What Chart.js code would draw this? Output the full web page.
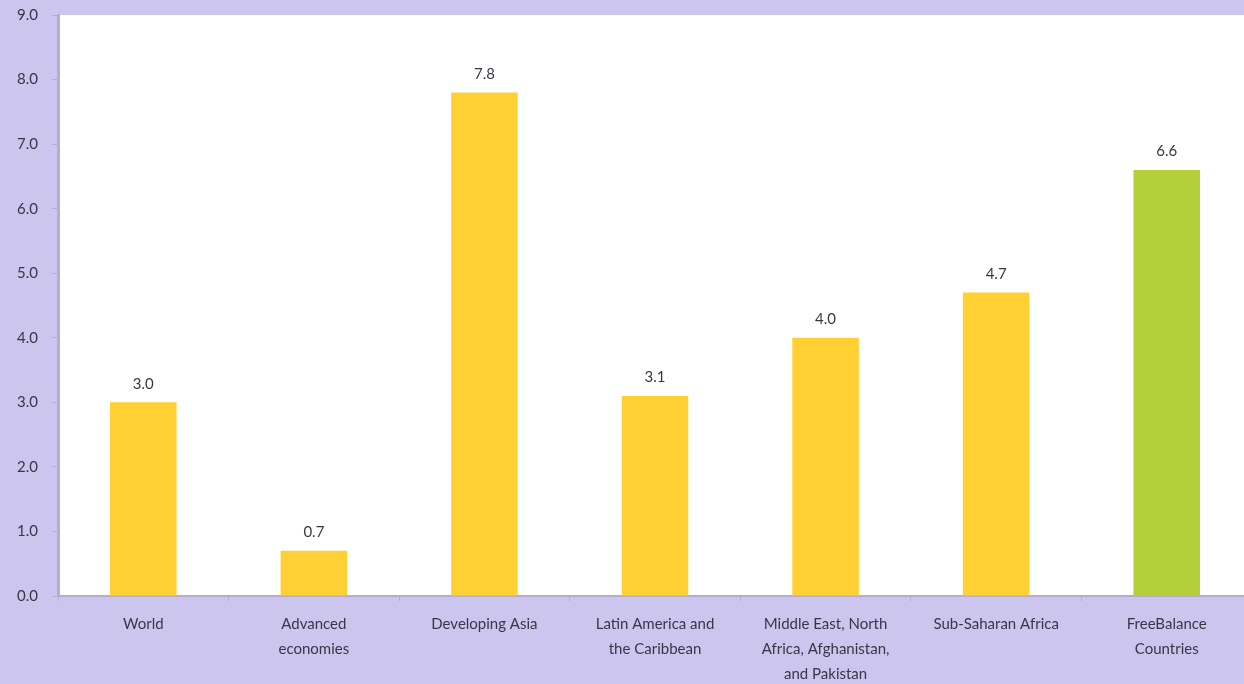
<!DOCTYPE html>
<html>
<head>
<meta charset="utf-8">
<script src="https://cdn.jsdelivr.net/npm/chart.js@4/dist/chart.umd.min.js"></script>
<style>
  html, body { margin: 0; padding: 0; background: #ccc5ee; overflow: hidden; }
  #wrap { width: 1252px; height: 684px; position: relative; }
</style>
</head>
<body>
<div id="wrap"><canvas id="c"></canvas></div>
<script>
// Regions and their values
const categories = [
  'World',
  ['Advanced', 'economies'],
  'Developing Asia',
  ['Latin America and', 'the Caribbean'],
  ['Middle East, North', 'Africa, Afghanistan,', 'and Pakistan'],
  'Sub-Saharan Africa',
  ['FreeBalance', 'Countries']
];
const growthValues = [3.0, 0.7, 7.8, 3.1, 4.0, 4.7, 6.6];
const barColors = ['#ffd033', '#ffd033', '#ffd033', '#ffd033', '#ffd033', '#ffd033', '#b5cf3a'];
const yTicks = [0, 1, 2, 3, 4, 5, 6, 7, 8, 9];

const FONT = 'Lato, "Open Sans", sans-serif';
const TEXT = '#383746';
const AXIS = '#b3aed0';

// White plotting area on the lavender background
const plotBackground = {
  id: 'plotBackground',
  beforeDraw(chart) {
    const { ctx, chartArea: a } = chart;
    ctx.save();
    ctx.fillStyle = '#ffffff';
    ctx.fillRect(a.left, a.top, a.right - a.left, a.bottom - a.top);
    ctx.restore();
  }
};

// Value labels above each bar
const valueLabels = {
  id: 'valueLabels',
  afterDatasetsDraw(chart) {
    const { ctx } = chart;
    const meta = chart.getDatasetMeta(0);
    ctx.save();
    ctx.font = '15px ' + FONT;
    ctx.fillStyle = TEXT;
    ctx.textAlign = 'center';
    ctx.textBaseline = 'bottom';
    meta.data.forEach((bar, i) => {
      ctx.fillText(growthValues[i].toFixed(1), bar.x, bar.y - 11);
    });
    ctx.restore();
  }
};

new Chart(document.getElementById('c'), {
  type: 'bar',
  data: {
    labels: categories,
    datasets: [{
      data: growthValues,
      backgroundColor: barColors,
      borderWidth: 0,
      barPercentage: 0.39,
      categoryPercentage: 1.0
    }]
  },
  options: {
    responsive: true,
    maintainAspectRatio: false,
    animation: false,
    layout: { padding: { top: 15, left: 0, right: 0, bottom: 0 } },
    plugins: { legend: { display: false }, tooltip: { enabled: false } },
    scales: {
      x: {
        afterFit(scale) { scale.height = 88; },
        grid: {
          drawOnChartArea: false,
          drawTicks: true,
          tickLength: 5,
          color: AXIS
        },
        border: { display: true, color: AXIS, width: 2 },
        ticks: {
          maxRotation: 0,
          autoSkip: false,
          padding: 11,
          color: TEXT,
          font: { family: FONT, size: 15, lineHeight: 1.65 }
        }
      },
      y: {
        min: 0,
        max: 9,
        afterFit(scale) {
          scale.width = 58;
          scale.paddingTop = 0;
          scale.paddingBottom = 0;
        },
        afterBuildTicks(scale) { scale.ticks = yTicks.map(v => ({ value: v })); },
        grid: {
          drawOnChartArea: false,
          drawTicks: true,
          tickLength: 6,
          color: AXIS
        },
        border: { display: true, color: AXIS, width: 3 },
        ticks: {
          padding: 14,
          color: TEXT,
          font: { family: FONT, size: 15 },
          callback: v => Number(v).toFixed(1)
        }
      }
    }
  },
  plugins: [plotBackground, valueLabels]
});
</script>
</body>
</html>
